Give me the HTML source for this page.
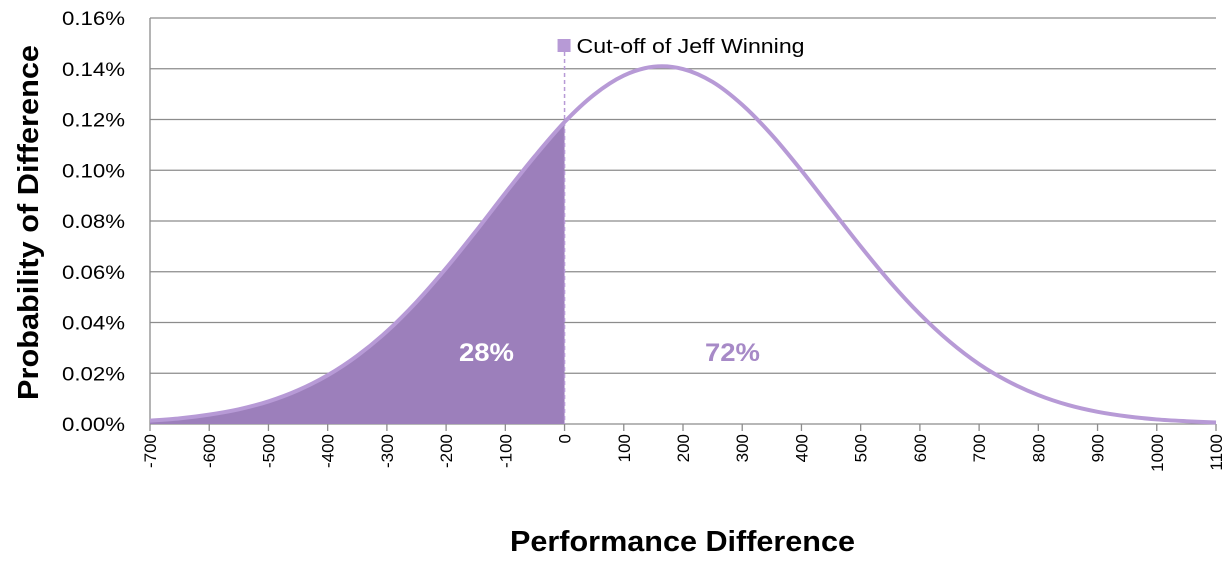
<!DOCTYPE html>
<html><head><meta charset="utf-8"><style>
body{margin:0;background:#fff;width:1232px;height:558px;overflow:hidden}
svg{font-family:"Liberation Sans",sans-serif}
</style></head><body>
<svg id="chart" width="1232" height="558"></svg>
<script>
const xValues=[-700,-650,-600,-550,-500,-450,-400,-350,-300,-250,-200,-150,-100,-50,0,50,100,150,200,250,300,350,400,450,500,550,600,650,700,750,800,850,900,950,1000,1050,1100];
const probValues=[0.0013,0.0022,0.0037,0.0058,0.0089,0.0133,0.0192,0.0269,0.0365,0.0481,0.0614,0.0759,0.0910,0.1056,0.1190,0.1298,0.1373,0.1408,0.1399,0.1348,0.1258,0.1139,0.0999,0.0849,0.0700,0.0559,0.0433,0.0325,0.0236,0.0167,0.0114,0.0075,0.0048,0.0030,0.0018,0.0011,0.0006];
const yTicks=[0,0.02,0.04,0.06,0.08,0.10,0.12,0.14,0.16];
const xTicks=[-700,-600,-500,-400,-300,-200,-100,0,100,200,300,400,500,600,700,800,900,1000,1100];
const cutoff=0;
const shareLabels=["28%","72%"];
const NS="http://www.w3.org/2000/svg";
const svg=document.getElementById('chart');
const X=v=>150+(v+700)*(1066/1800);
const Y=v=>424-v*(406/0.16);
function el(t,a,p){const e=document.createElementNS(NS,t);for(const k in a)e.setAttribute(k,a[k]);(p||svg).appendChild(e);return e;}
yTicks.forEach((t,i)=>{
 const g=el('line',{x1:150,x2:1216,y1:Y(t),y2:Y(t),stroke:'#8c8c8c','stroke-width':1.3});
 
 
 const tx=el('text',{x:125,y:Y(t)+7,'text-anchor':'end','font-size':19,textLength:63,lengthAdjust:'spacingAndGlyphs',fill:'#000'});
 tx.textContent=t.toFixed(2)+'%';
 
 
});
el('line',{x1:150,x2:150,y1:18,y2:424,stroke:'#8c8c8c','stroke-width':1.3});
xTicks.forEach(t=>{
 const tk=el('line',{x1:X(t),x2:X(t),y1:424,y2:431,stroke:'#8c8c8c','stroke-width':1.3});
 
 
 const tx=el('text',{transform:`translate(${X(t)+6},434) rotate(-90)`,'text-anchor':'end','font-size':17,fill:'#000'});
 tx.textContent=t;
 
 
});
function path(pts){let d=`M${pts[0][0]},${pts[0][1]}`;for(let i=0;i<pts.length-1;i++){const p0=pts[i-1]||pts[i],p1=pts[i],p2=pts[i+1],p3=pts[i+2]||p2;d+=` C${p1[0]+(p2[0]-p0[0])/6},${p1[1]+(p2[1]-p0[1])/6} ${p2[0]-(p3[0]-p1[0])/6},${p2[1]-(p3[1]-p1[1])/6} ${p2[0]},${p2[1]}`;}return d;}
const pts=xValues.map((x,i)=>[X(x),Y(probValues[i])]);
const left=pts.filter((p,i)=>xValues[i]<=cutoff);
const area=el('path',{d:path(left)+` L${X(cutoff)},424 L${X(-700)},424 Z`,fill:'#9c7fbb'});


const cl=el('line',{x1:X(cutoff),x2:X(cutoff),y1:52,y2:424,stroke:'#b79ad6','stroke-width':1.5,'stroke-dasharray':'4,3'});


const curve=el('path',{d:path(pts),fill:'none',stroke:'#b79ad6','stroke-width':4});


const mk=el('rect',{x:X(cutoff)-7,y:39,width:13,height:13,fill:'#b79ad6'});


const lt=el('text',{x:X(cutoff)+12,y:53,'font-size':20,textLength:228,lengthAdjust:'spacingAndGlyphs',fill:'#000'});lt.textContent='Cut-off of Jeff Winning';


const a=el('text',{x:459,y:361,'font-size':25,'font-weight':'bold',textLength:55,lengthAdjust:'spacingAndGlyphs',fill:'#fff'});a.textContent=shareLabels[0];


const b=el('text',{x:705,y:361,'font-size':25,'font-weight':'bold',textLength:55,lengthAdjust:'spacingAndGlyphs',fill:'#a78ac7'});b.textContent=shareLabels[1];


const xt=el('text',{x:510,y:551,'font-size':29,'font-weight':'bold',textLength:345,lengthAdjust:'spacingAndGlyphs',fill:'#000'});xt.textContent='Performance Difference';


const yt=el('text',{transform:'translate(38,400) rotate(-90)','font-size':29,'font-weight':'bold',textLength:355,lengthAdjust:'spacingAndGlyphs',fill:'#000'});yt.textContent='Probability of Difference';


</script>
</body></html>
